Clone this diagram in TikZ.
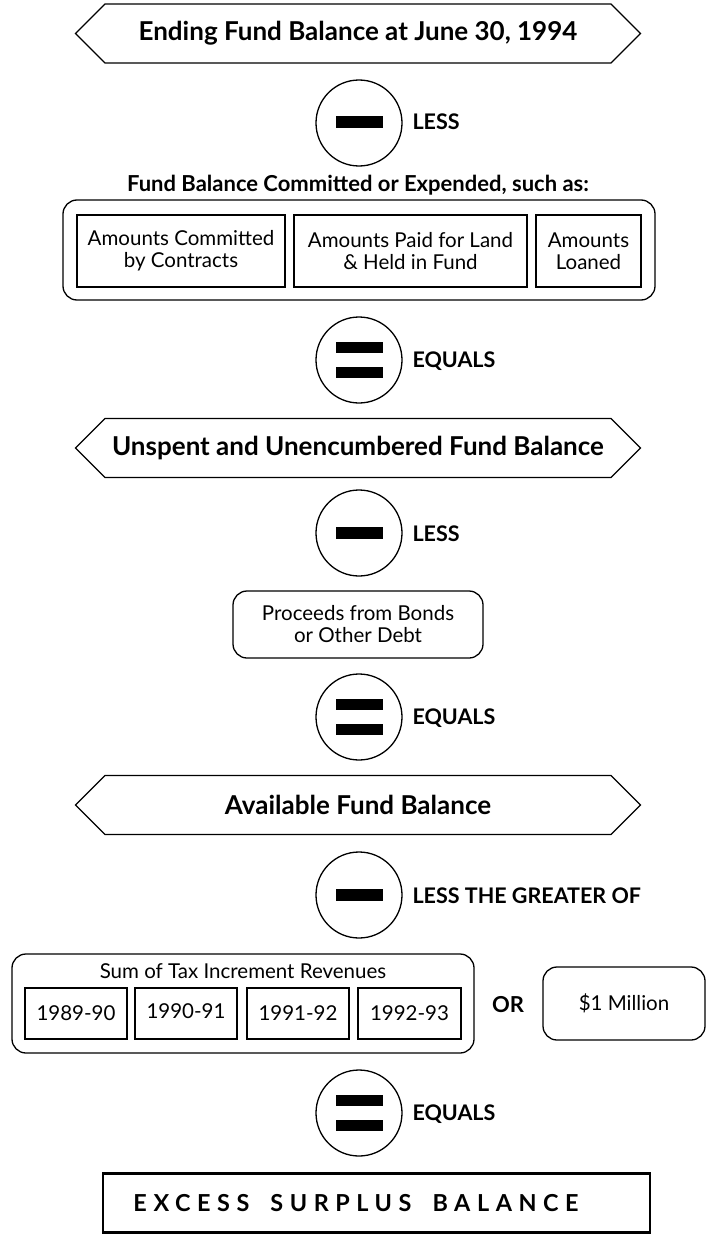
\documentclass[tikz,border=0pt]{standalone}
\usepackage{fontspec}
\setmainfont{Lato}
\usetikzlibrary{shapes.symbols,calc}
\begin{document}
\begin{tikzpicture}[x=1pt,y=-1pt,
  hexa/.style={draw,line width=1.3pt,signal,signal to=west and east,signal pointer angle=90,minimum width=565,minimum height=59,inner sep=0pt,font=\fontsize{26}{30}\selectfont\bfseries},
  opcirc/.style={draw,line width=1.3pt,circle,minimum size=86,inner sep=0pt},
  bar/.style={fill=black,minimum width=47,minimum height=11.5,inner sep=0pt},
  oplabel/.style={anchor=west,font=\fontsize{21.5}{25}\selectfont\bfseries},
  outerbox/.style={draw,line width=1.3pt,rounded corners=14pt},
  inbox/.style={draw,line width=1.3pt,align=center,inner sep=0pt,font=\fontsize{20.5}{22}\selectfont},
  rbox/.style={draw,line width=1.3pt,rounded corners=14pt,align=center,inner sep=0pt,font=\fontsize{20.5}{22}\selectfont}
]
\useasboundingbox (0,0) rectangle (712,1236);

% Top hexagon
\node[hexa] (h1) at (358,33.5) {Ending Fund Balance at June 30, 1994};

% minus 1
\node[opcirc] (c1) at (359,123) {};
\node[bar] (c1b) at (359,122) {};
\node[oplabel] (c1l) at (409,122) {LESS};

\node[font=\fontsize{22}{26}\selectfont\bfseries] (t1) at (358,185) {Fund Balance Committed or Expended, such as:};

\node[outerbox,minimum width=592,minimum height=100,inner sep=0pt] (o1) at (359,250) {};
\node[inbox,minimum width=208,minimum height=72] (b1) at (181,251) {Amounts Committed\\by Contracts};
\node[inbox,minimum width=233,minimum height=72] (b2) at (410.5,251) {Amounts Paid for Land\\\& Held in Fund};
\node[inbox,minimum width=105,minimum height=72] (b3) at (588.5,251) {Amounts\\Loaned};

% equals 1
\node[opcirc] (c2) at (359,360) {};
\node[bar] (c2a) at (359,347.5) {};
\node[bar] (c2b) at (359,372.5) {};
\node[oplabel] (c2l) at (409,361) {EQUALS};

% hexagon 2
\node[hexa] (h2) at (358,448) {Unspent and Unencumbered Fund Balance};

% minus 2
\node[opcirc] (c3) at (359,533) {};
\node[bar] (c3b) at (359,533) {};
\node[oplabel] (c3l) at (409,534) {LESS};

\node[rbox,minimum width=250,minimum height=67] (p1) at (358,624.5) {Proceeds from Bonds\\or Other Debt};

% equals 2
\node[opcirc] (c4) at (359,717) {};
\node[bar] (c4a) at (359,704.5) {};
\node[bar] (c4b) at (359,729.5) {};
\node[oplabel] (c4l) at (409,718) {EQUALS};

% hexagon 3
\node[hexa] (h3) at (358,805) {Available Fund Balance};

% minus 3
\node[opcirc] (c5) at (359,895) {};
\node[bar] (c5b) at (359,895) {};
\node[oplabel] (c5l) at (409,896) {LESS THE GREATER OF};

\node[outerbox,minimum width=462,minimum height=99,inner sep=0pt] (o2) at (243,1003.5) {};
\node[font=\fontsize{20.5}{23}\selectfont] (t2) at (243,971) {Sum of Tax Increment Revenues};
\node[inbox,minimum width=102,minimum height=51] (y1) at (76,1013.5) {1989-90};
\node[inbox,minimum width=102,minimum height=51] (y2) at (186,1013.5) {\raisebox{5pt}{1990-91}};
\node[inbox,minimum width=102,minimum height=51] (y3) at (298,1013.5) {1991-92};
\node[inbox,minimum width=103,minimum height=51] (y4) at (409.5,1013.5) {1992-93};
\node[font=\fontsize{22}{26}\selectfont\bfseries] (or) at (508,1005) {OR};
\node[rbox,minimum width=162,minimum height=73] (m1) at (624,1003.5) {\$1 Million};

% equals 3
\node[opcirc] (c6) at (359,1113) {};
\node[bar] (c6a) at (359,1100.5) {};
\node[bar] (c6b) at (359,1125.5) {};
\node[oplabel] (c6l) at (409,1114) {EQUALS};

% final
\node[draw,line width=2.6pt,minimum width=547,minimum height=59,inner sep=0pt] (fin) at (376.5,1203) {};
\node[font=\fontsize{23.4}{26}\selectfont\bfseries] (fint) at (356,1203) {\addfontfeature{LetterSpace=28}EXCESS\hspace{0.9em}SURPLUS\hspace{0.9em}BALANCE};
\end{tikzpicture}
\end{document}
